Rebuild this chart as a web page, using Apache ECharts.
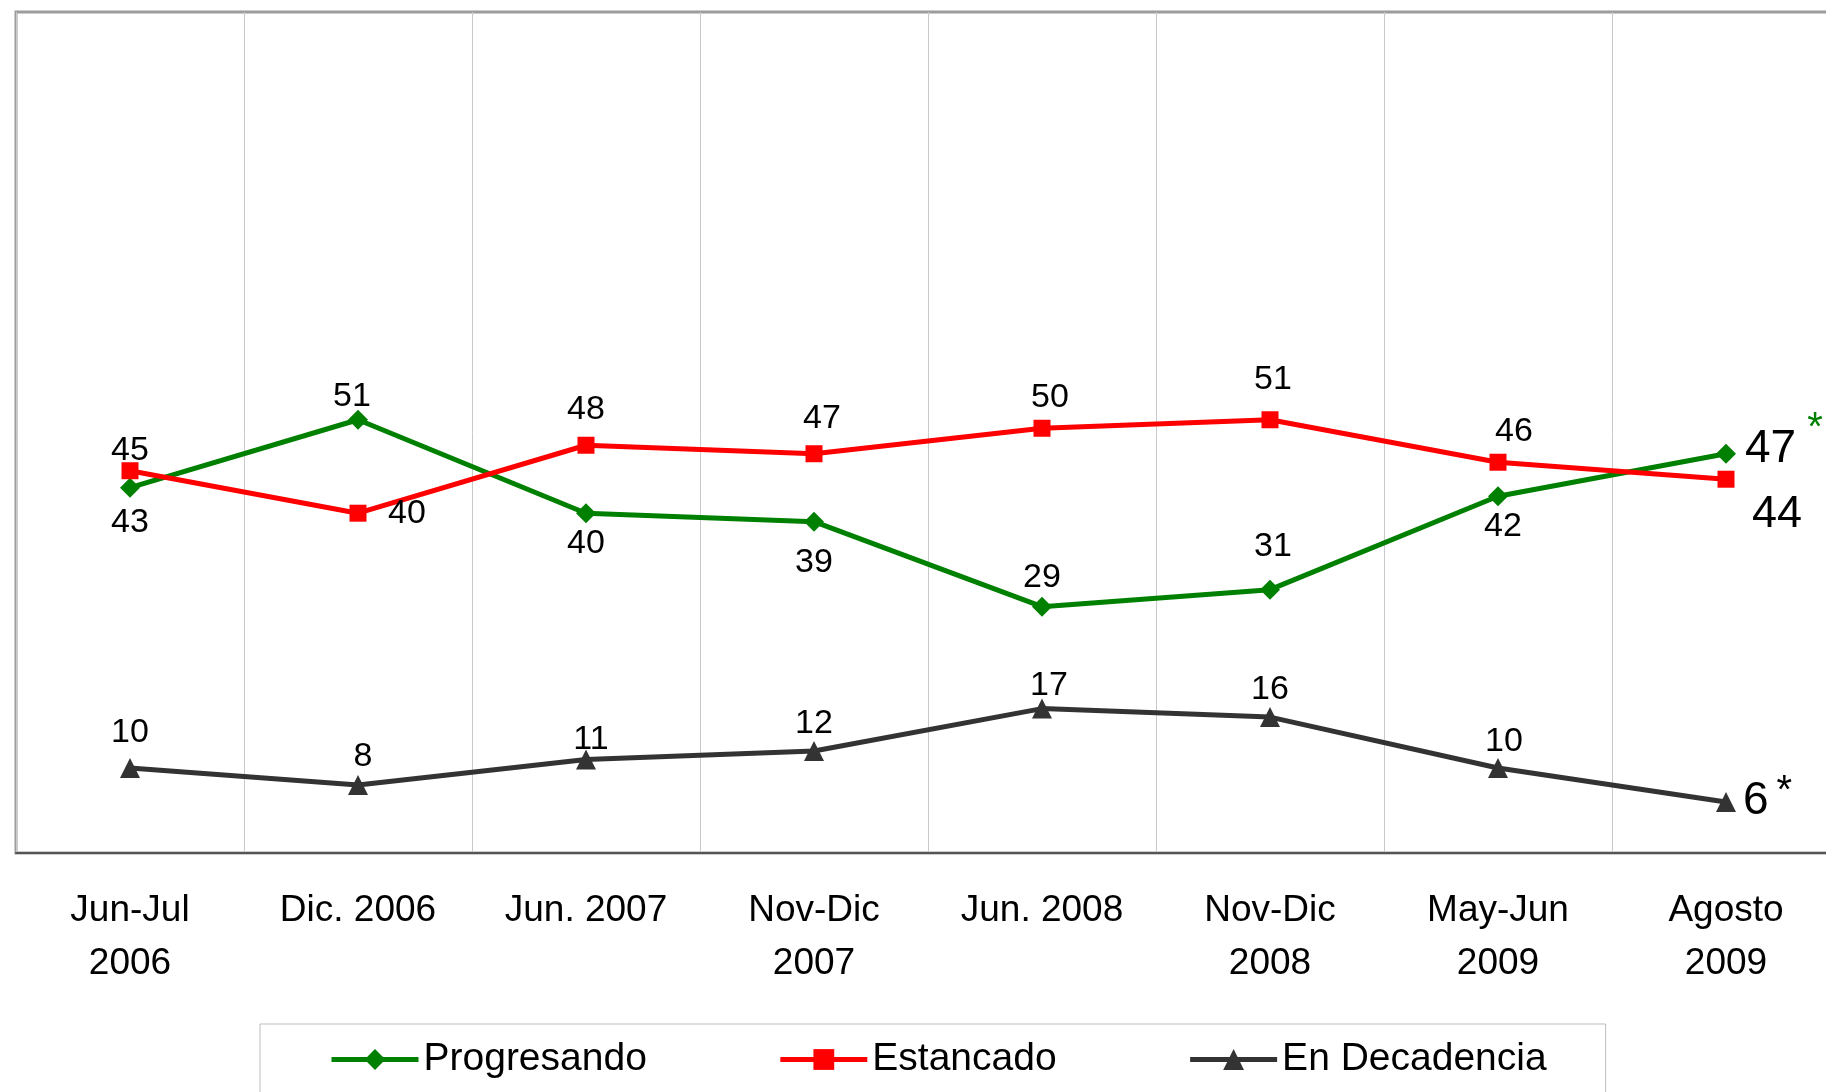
<!DOCTYPE html>
<html>
<head>
<meta charset="utf-8">
<script src="https://cdn.jsdelivr.net/npm/echarts@6/dist/echarts.min.js"></script>
<style>
  html, body { margin: 0; padding: 0; background: #fff; }
  #chart { width: 1826px; height: 1092px; }
</style>
</head>
<body>
<div id="chart"></div>
<script>
var categories = ['Jun-Jul\n2006', 'Dic. 2006', 'Jun. 2007', 'Nov-Dic\n2007', 'Jun. 2008', 'Nov-Dic\n2008', 'May-Jun\n2009', 'Agosto\n2009'];
var progresando = [43, 51, 40, 39, 29, 31, 42, 47];
var estancado = [45, 40, 48, 47, 50, 51, 46, 44];
var decadencia = [10, 8, 11, 12, 17, 16, 10, 6];

// label offsets [dx, dy] from the point centre (last point handled separately)
var progOffsets = [[0, 35], [-6, -23], [0, 30], [0, 41], [0, -29], [3, -43], [5, 30]];
var estOffsets = [[0, -20], [49, 0], [0, -36], [8, -35], [8, -31], [3, -40], [16, -31]];
var decOffsets = [[0, -35], [5, -28], [5, -20], [0, -27], [7, -23], [0, -27], [6, -26]];

function buildData(values, offsets, lastLabel) {
  return values.map(function (v, i) {
    if (i < offsets.length) {
      return { value: v, label: { position: 'inside', offset: offsets[i] } };
    }
    return { value: v, label: lastLabel };
  });
}

var myChart = echarts.init(document.getElementById('chart'));

var option = {
  animation: false,
  textStyle: { fontFamily: '"Liberation Sans", Arial, sans-serif' },
  grid: {
    left: 16,
    top: 12,
    width: 1824,
    bottom: 239,
    outerBoundsMode: 'none',
    show: true,
    borderColor: '#9c9c9c',
    borderWidth: 3
  },
  legend: {
    left: 260,
    top: 1024,
    padding: [16, 59, 40, 69],
    borderColor: '#bdbdbd',
    borderWidth: 1,
    itemWidth: 87,
    itemHeight: 26,
    itemGap: 131,
    lineStyle: { width: 5 },
    textStyle: { fontSize: 39, color: '#000' },
    data: ['Progresando', 'Estancado', 'En Decadencia']
  },
  xAxis: {
    type: 'category',
    data: categories,
    boundaryGap: true,
    axisLine: { lineStyle: { color: '#555', width: 2 } },
    axisTick: { length: 11, lineStyle: { color: '#555', width: 2 } },
    splitLine: { show: true, lineStyle: { color: '#c8c8c8', width: 1 } },
    axisLabel: {
      interval: 0,
      fontSize: 37,
      color: '#000',
      margin: 31,
      lineHeight: 53
    }
  },
  yAxis: {
    type: 'value',
    min: 0,
    max: 99,
    show: false
  },
  series: [
    {
      name: 'Progresando',
      type: 'line',
      symbol: 'diamond',
      symbolSize: 20,
      itemStyle: { color: '#008000' },
      lineStyle: { color: '#008000', width: 5 },
      label: { show: true, fontSize: 34, color: '#000' },
      data: buildData(progresando, progOffsets, {
        position: 'inside',
        align: 'left',
        verticalAlign: 'middle',
        offset: [19, -13],
        formatter: '{big|{c}}{star|*}',
        rich: {
          big: { fontSize: 46, color: '#000', padding: [17, 0, 0, 0] },
          star: { fontSize: 40, color: '#008000', verticalAlign: 'top', padding: [0, 0, 0, 11] }
        }
      })
    },
    {
      name: 'Estancado',
      type: 'line',
      symbol: 'rect',
      symbolSize: 17,
      itemStyle: { color: '#ff0000' },
      lineStyle: { color: '#ff0000', width: 5 },
      label: { show: true, fontSize: 34, color: '#000' },
      data: buildData(estancado, estOffsets, {
        position: 'inside',
        align: 'left',
        verticalAlign: 'middle',
        offset: [26, 35],
        fontSize: 45
      })
    },
    {
      name: 'En Decadencia',
      type: 'line',
      symbol: 'triangle',
      symbolSize: 20,
      itemStyle: { color: '#333333' },
      lineStyle: { color: '#333333', width: 5 },
      label: { show: true, fontSize: 34, color: '#000' },
      data: buildData(decadencia, decOffsets, {
        position: 'inside',
        align: 'left',
        verticalAlign: 'middle',
        offset: [17, -4],
        formatter: '{big|{c}}{star|*}',
        rich: {
          big: { fontSize: 46, color: '#000', padding: [7, 0, 0, 0] },
          star: { fontSize: 40, color: '#000', verticalAlign: 'top', padding: [0, 0, 0, 8] }
        }
      })
    }
  ]
};

myChart.setOption(option);
</script>
</body>
</html>
